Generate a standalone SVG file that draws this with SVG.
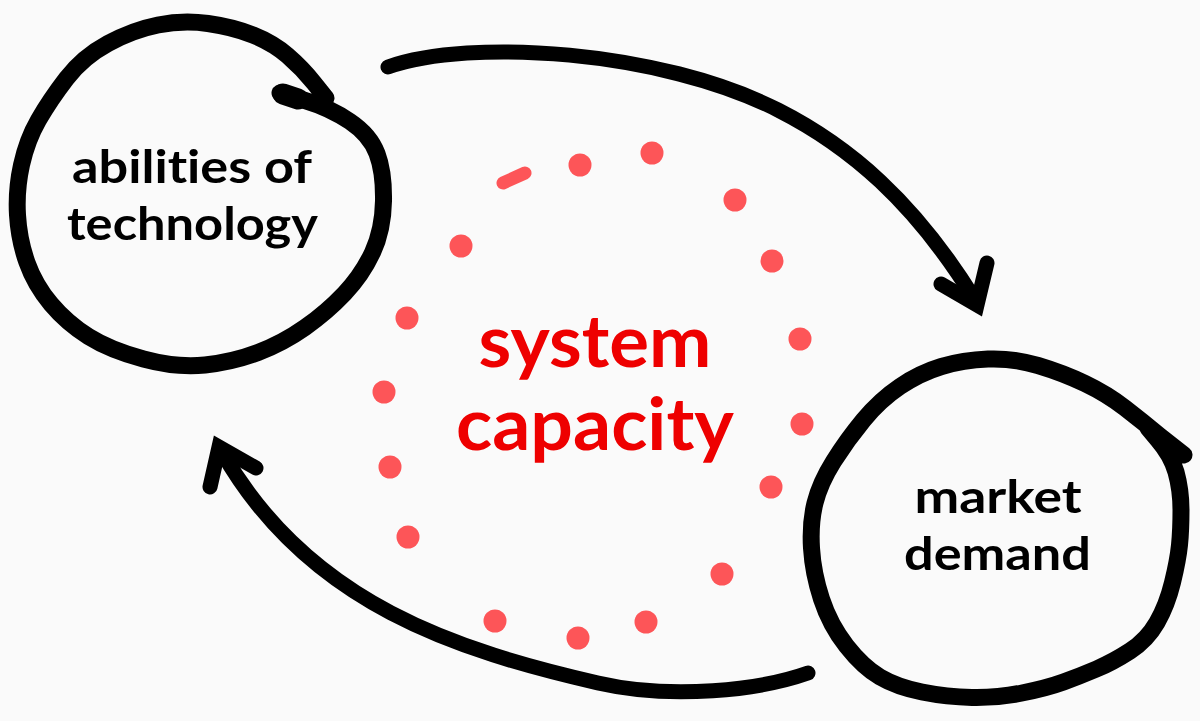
<svg xmlns="http://www.w3.org/2000/svg" width="1200" height="721" viewBox="0 0 1200 721">
<style>
.ink{fill:none;stroke:#000;stroke-linecap:round;stroke-linejoin:round}
.node{stroke-width:17}
.arrow{stroke-width:15}
.head{fill:none;stroke:#000;stroke-width:15;stroke-linecap:round;stroke-linejoin:miter;stroke-miterlimit:6}
.dot{fill:#fd5558}
.lbl{font-family:"Lato","Noto Sans",sans-serif;font-weight:700;fill:#000;text-anchor:middle;font-size:46px;font-variant-ligatures:none;font-feature-settings:"liga" 0}
.big{font-family:"Lato","Noto Sans",sans-serif;font-weight:700;fill:#ee0000;text-anchor:middle;font-size:72px;font-variant-ligatures:none;font-feature-settings:"liga" 0}
</style>
<rect width="1200" height="721" fill="#fafafa"/>
<g id="connectors">
  <path class="ink arrow" d="M388,67 C470,38 660,50 778,110 C849,146 914,201 975,300"/>
  <path class="head" d="M941,284 L977,305 L987,263"/>
  <path class="ink arrow" d="M808,673 C760,690 672,700 598,683 C460,651 309,605 222,452"/>
  <path class="head" d="M210,487 L219,447 L256,468"/>
</g>
<g id="node-technology">
  <path class="ink node" d="M280,93 L305,100.5 Q330,108 350,121.5 Q370,135 377,153.5 Q384,172 383.5,201 Q383,230 372.5,252.5 Q362,275 344.5,293.5 Q327,312 305,327.5 Q283,343 258,352.5 Q233,362 205,365 Q177,368 143.5,359 Q110,350 88.5,336.5 Q67,323 51,304 Q35,285 27,262.5 Q19,240 17.5,215 Q16,190 21.5,165 Q27,140 38.5,120 Q50,100 66.5,78.5 Q83,57 108,43.5 Q133,30 158,25 Q183,20 208,23.5 Q233,27 253,35 Q273,43 287.5,55.5 Q302,68 314,83 L326,98"/>
  <path class="ink" stroke-width="21" d="M283,94 L298,99"/>
  <text class="lbl" x="192" y="183" textLength="240" lengthAdjust="spacingAndGlyphs">abilities of</text>
  <text class="lbl" x="192.5" y="240" textLength="251" lengthAdjust="spacingAndGlyphs">technology</text>
</g>
<g id="node-market">
  <path class="ink node" d="M1148,428 L1158,440 Q1171,455 1176,472 Q1181,490 1181,510 Q1181,530 1179.5,545 Q1178,560 1172.5,582.5 Q1167,605 1157,622.5 Q1147,640 1130,651 Q1113,662 1096.5,669 Q1080,676 1063.5,682 Q1047,688 1022,693 Q997,698 972,697.5 Q947,697 922,692 Q897,687 880,677 Q863,667 846.5,646 Q830,625 821.5,599 Q813,573 811.5,548 Q810,523 815,503 Q820,483 833.5,461.5 Q847,440 863.5,420 Q880,400 900,386.5 Q920,373 941.5,366.5 Q963,360 988,359 Q1013,358 1038,365.5 Q1063,373 1085,383.5 Q1107,394 1125,408 Q1143,422 1160,436 L1184,455"/>
  <text class="lbl" x="998" y="513" textLength="167" lengthAdjust="spacingAndGlyphs">market</text>
  <text class="lbl" x="997.5" y="570" textLength="187" lengthAdjust="spacingAndGlyphs">demand</text>
</g>
<g id="node-capacity">
  <path d="M503,183 L525,173" fill="none" stroke="#fd5558" stroke-width="13" stroke-linecap="round"/>
  <circle class="dot" cx="580" cy="165" r="11.5"/>
  <circle class="dot" cx="652" cy="153" r="11.5"/>
  <circle class="dot" cx="735" cy="200" r="11.5"/>
  <circle class="dot" cx="772" cy="261" r="11.5"/>
  <circle class="dot" cx="800" cy="339" r="11.5"/>
  <circle class="dot" cx="802" cy="424" r="11.5"/>
  <circle class="dot" cx="771" cy="487" r="11.5"/>
  <circle class="dot" cx="722" cy="574" r="11.5"/>
  <circle class="dot" cx="646" cy="622" r="11.5"/>
  <circle class="dot" cx="578" cy="638" r="11.5"/>
  <circle class="dot" cx="495" cy="621" r="11.5"/>
  <circle class="dot" cx="408" cy="537" r="11.5"/>
  <circle class="dot" cx="390" cy="467" r="11.5"/>
  <circle class="dot" cx="384" cy="392" r="11.5"/>
  <circle class="dot" cx="407" cy="318" r="11.5"/>
  <circle class="dot" cx="461" cy="246" r="11.5"/>
  <text class="big" x="595" y="367" textLength="233" lengthAdjust="spacingAndGlyphs">system</text>
  <text class="big" x="595" y="450" textLength="278" lengthAdjust="spacingAndGlyphs">capacity</text>
</g>
</svg>
